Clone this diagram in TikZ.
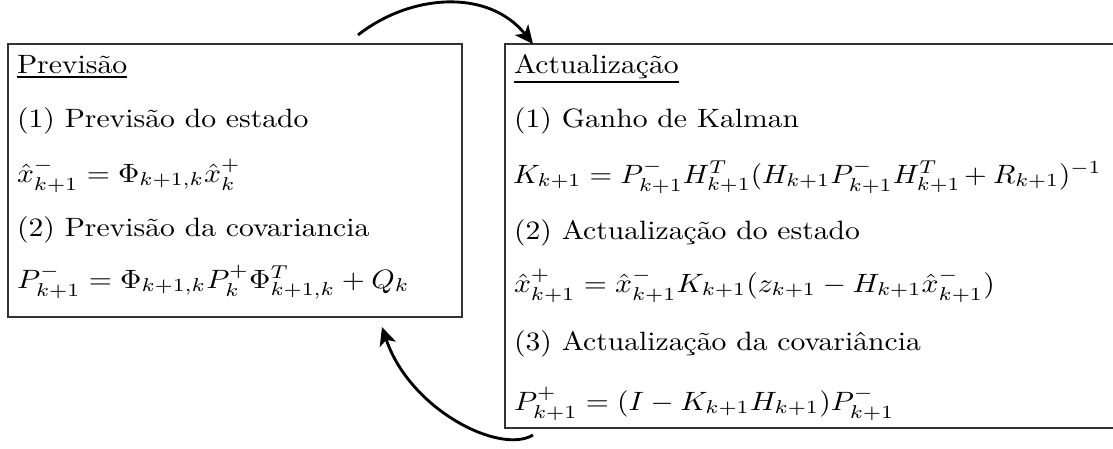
\documentclass[tikz,border=0pt]{standalone}
\usetikzlibrary{arrows.meta,fit}
\begin{document}
\begin{tikzpicture}[x=0.3846pt,y=-0.3846pt,
  panel/.style={draw=black!80,line width=0.65pt,inner sep=0pt,outer sep=0pt},
  txt/.style={anchor=base west,inner sep=0pt,outer sep=0pt,font=\normalsize},
  flow/.style={line width=1.1pt,-{Stealth[length=7pt,width=6.5pt,inset=1.8pt]}}]
\useasboundingbox (0,0) rectangle (1113,448);
\clip (0,0) rectangle (1113,448);
% boxes
\node[panel,fit={(8,44) (462,317)}] (prev) {};
\node[panel,fit={(505,44) (1125,428)}] (act) {};
% left box text
\node[txt] (p0) at (17,73)  {\scalebox{1.14}[1.02]{\underline{Previsão}}};
\node[txt] (p1) at (17,127) {\scalebox{1.14}[1.02]{(1) Previsão do estado}};
\node[txt] (p2) at (17,182) {\scalebox{1.14}[1.02]{$\hat{x}_{k+1}^{-} = \Phi_{k+1,k}\hat{x}_k^{+}$}};
\node[txt] (p3) at (17,236) {\scalebox{1.14}[1.02]{(2) Previsão da covariancia}};
\node[txt] (p4) at (17,288) {\scalebox{1.14}[1.02]{$P_{k+1}^{-} = \Phi_{k+1,k}P_k^{+}\Phi_{k+1,k}^{T} + Q_k$}};
% right box text
\node[txt] (a0) at (514,73)  {\scalebox{1.14}[1.02]{\underline{Actualização}}};
\node[txt] (a1) at (514,127) {\scalebox{1.14}[1.02]{(1) Ganho de Kalman}};
\node[txt] (a2) at (513,183) {\scalebox{1.12}[1.02]{$K_{k+1} = P_{k+1}^{-}H_{k+1}^{T}(H_{k+1}P_{k+1}^{-}H_{k+1}^{T}\mkern-2mu+R_{k+1})^{-1}$}};
\node[txt] (a3) at (514,239) {\scalebox{1.14}[1.02]{(2) Actualização do estado}};
\node[txt] (a4) at (514,292) {\scalebox{1.14}[1.02]{$\hat{x}_{k+1}^{+} = \hat{x}_{k+1}^{-}K_{k+1}(z_{k+1} - H_{k+1}\hat{x}_{k+1}^{-})$}};
\node[txt] (a5) at (514,350) {\scalebox{1.14}[1.02]{(3) Actualização da covariância}};
\node[txt] (a6) at (514,410) {\scalebox{1.14}[1.02]{$P_{k+1}^{+} = (I - K_{k+1}H_{k+1})P_{k+1}^{-}$}};
% connectors
\coordinate (s1) at (358,35);
\coordinate (e1) at ([xshift=28*0.3846pt]act.north west);
\coordinate (s2) at (533,435);
\coordinate (e2) at ([yshift=-10*0.3846pt]prev.south -| 382,0);
\draw[flow] (s1) .. controls (410,-6) and (488,-12) .. (e1);
\draw[flow] (s2) .. controls (500,455) and (410,410) .. (e2);
\end{tikzpicture}
\end{document}
